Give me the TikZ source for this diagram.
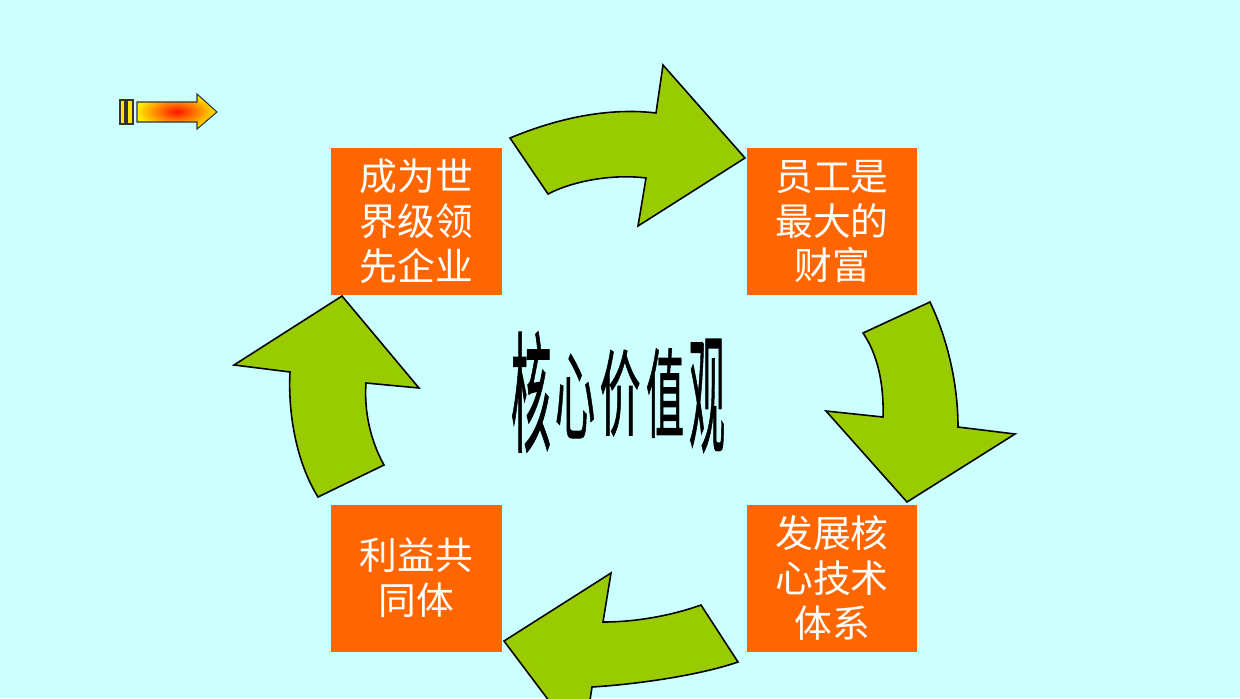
\documentclass[tikz,border=0pt]{standalone}
\usepackage{fontspec}
\newfontfamily\cjk{Noto Sans CJK SC}
\newfontfamily\cjkb[FakeBold=1.2]{Noto Sans CJK SC}
\definecolor{bgc}{HTML}{CCFFFF}
\definecolor{boxc}{HTML}{FF6600}
\definecolor{arrc}{HTML}{99CC00}
\tikzset{
  box/.style={fill=boxc, minimum width=3.42cm, minimum height=2.94cm, inner sep=0pt,
    text=white, align=center, font=\cjk\fontsize{21.5}{25.5}\selectfont},
  bigarrow/.style={fill=arrc, draw=black, line width=0.9pt, line join=miter},
  core/.style={font=\cjkb\fontsize{24}{26}\selectfont, inner sep=0pt, text=black}
}
\begin{document}
\begin{tikzpicture}[x=0.02cm,y=-0.02cm]
\fill[bgc] (0,0) rectangle (1240,698);
\useasboundingbox (0,0) rectangle (1240,698);
\begin{scope}
\clip (0,0) rectangle (1240,698);
% small arrow top-left
\draw[black!80, fill=yellow!90!orange, line width=0.6pt] (120,100) rectangle (125,124);
\draw[black!80, fill=yellow!90!orange, line width=0.6pt] (127,100) rectangle (133,124);
\draw[black!80, line width=0.6pt, inner color=red!85!orange, outer color=yellow!85!orange]
  (137,102) -- (197,102) -- (197,94) -- (217,112) -- (197,129) -- (197,122) -- (137,122) -- cycle;
% boxes
\node[box] (tl) at (416.5,221.5) {成为世\\界级领\\先企业};
\node[box] (tr) at (832,221.5) {员工是\\最大的\\财富};
\node[box] (br) at (832,578) {发展核\\心技术\\体系};
\node[box] (bl) at (416.5,578) {利益共\\同体};
% top arrow
\draw[bigarrow] (510,138) .. controls (565,115) and (615,108) .. (656,113)
  -- (663,65) -- (745,158) -- (638,226) -- (646,178)
  .. controls (615,174) and (575,180) .. (548,194) -- cycle;
% right arrow
\draw[bigarrow] (863,333) -- (930,302) .. controls (948,340) and (958,385) .. (958,427)
  -- (1015,434) -- (907,502) -- (826,411) -- (883,417)
  .. controls (884,385) and (878,355) .. (863,333) -- cycle;
% bottom arrow
\draw[bigarrow] (504,641) -- (611,573) -- (603,622)
  .. controls (635,622) and (670,616) .. (701,605) -- (738,662)
  .. controls (700,675) and (640,684) .. (592,687) -- (583,746) -- cycle;
% left arrow
\draw[bigarrow] (342,296) -- (419,388) -- (366,383)
  .. controls (364,410) and (370,440) .. (384,465) -- (318,497)
  .. controls (295,460) and (288,410) .. (290,372) -- (234,365) -- cycle;
\end{scope}
% centre text
\node[core, xscale=0.95, yscale=3.1] (c1) at (531,392) {核};
\node[core, xscale=0.95, yscale=2.3] (c2) at (575,396) {心};
\node[core, xscale=0.97, yscale=2.2] (c3) at (620,393) {价};
\node[core, xscale=0.9, yscale=2.3] (c4) at (665,393) {值};
\node[core, xscale=0.85, yscale=3.1] (c5) at (707,396) {观};
\end{tikzpicture}
\end{document}
